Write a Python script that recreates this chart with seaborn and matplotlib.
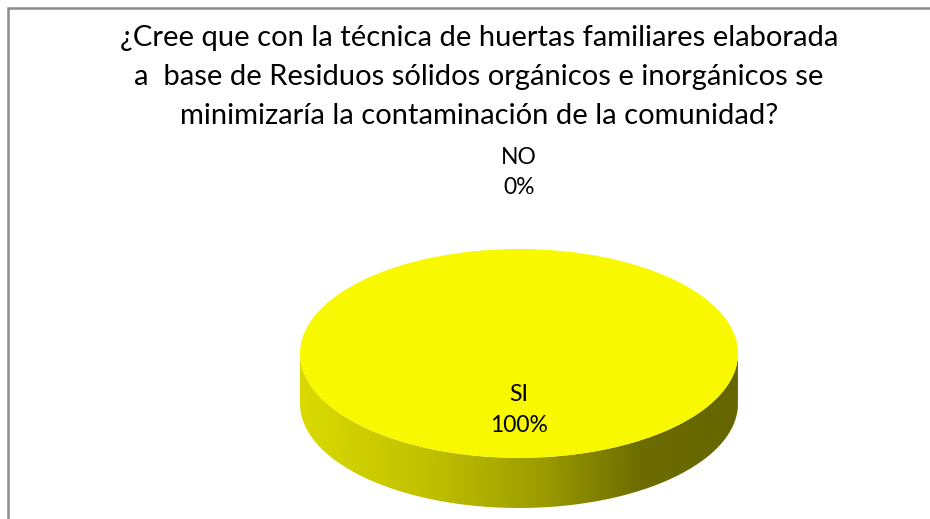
import numpy as np
import matplotlib
matplotlib.use("Agg")
import matplotlib.pyplot as plt
import seaborn as sns
from matplotlib.colors import LinearSegmentedColormap
from matplotlib.patches import PathPatch, Rectangle
from matplotlib.path import Path

categories = ['SI', 'NO']
valores = [100, 0]
porcentajes = ['100%', '0%']
titulo = ('¿Cree que con la técnica de huertas familiares elaborada\n'
          'a  base de Residuos sólidos orgánicos e inorgánicos se\n'
          'minimizaría la contaminación de la comunidad?')

sns.set_theme(style='white')
plt.rcParams['font.family'] = ['Lato', 'DejaVu Sans']

W, H = 930, 519
fig = plt.figure(figsize=(W / 100, H / 100), dpi=100)
fig.patch.set_facecolor('white')

# marco del grafico (solo se ve arriba y a la izquierda)
fig.add_artist(Rectangle((8 / W, -0.2), 1.3, 1.2 - 8 / H, transform=fig.transFigure,
                         fill=False, edgecolor='#8c8c8c', linewidth=1.8))

fig.text(479 / W, 1 - 77 / H, titulo, ha='center', va='center', fontsize=21,
         linespacing=1.62, color='black')

# ejes del pastel: elipse de arriba + costado en 3D
depth = 0.48
ax = fig.add_axes([300 / W, 11 / H, 438 / W, 259 / H])
colores = ['#f8f800', '#c8c8c8']
wedges, _ = ax.pie(valores, colors=colores, startangle=90, counterclock=False,
                   wedgeprops=dict(linewidth=0), radius=1)
for w in wedges:
    w.set_zorder(3)
ax.set_aspect('auto')
ax.axis('off')

# costado con degradado
t = np.linspace(np.pi, 2 * np.pi, 200)
xs = np.concatenate([np.cos(t), np.cos(t[::-1])])
ys = np.concatenate([np.sin(t), np.sin(t[::-1]) - depth])
side = PathPatch(Path(np.column_stack([xs, ys])), facecolor='none', edgecolor='none')
ax.add_patch(side)
cmap = LinearSegmentedColormap.from_list(
    'lado', [(0, '#dada00'), (0.3, '#c0c000'), (0.55, '#9c9c00'), (0.78, '#6c6c00'), (1, '#666600')])
grad = ax.imshow(np.linspace(0, 1, 256).reshape(1, -1), cmap=cmap, aspect='auto',
                 extent=[-1, 1, -1 - depth, 0], zorder=1)
grad.set_clip_path(side)
ax.set_xlim(-1, 1)
ax.set_ylim(-1 - depth, 1)

# etiquetas de datos
distancias = [0.54, 1.73]
for w, cat, pct, dist in zip(wedges, categories, porcentajes, distancias):
    ang = np.deg2rad((w.theta1 + w.theta2) / 2)
    ax.text(dist * np.cos(ang), dist * np.sin(ang), f'{cat}\n{pct}', ha='center', va='center',
            fontsize=16.5, linespacing=1.55, color='black', zorder=5, clip_on=False)

fig.savefig('out.png', dpi=100)
